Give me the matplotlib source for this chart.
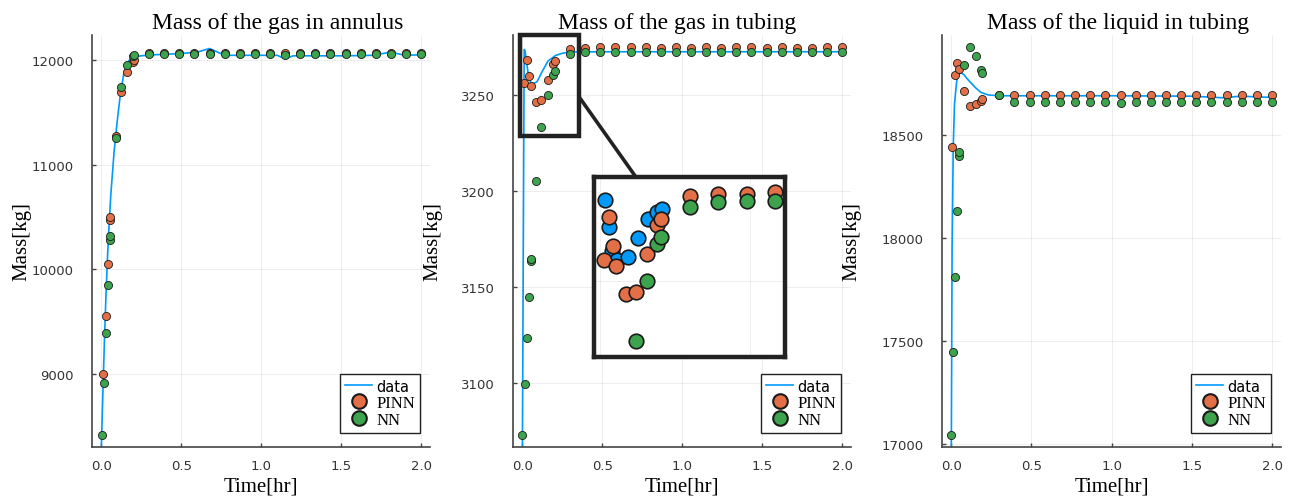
import matplotlib.pyplot as plt
from matplotlib.lines import Line2D
from matplotlib.patches import Rectangle, ConnectionPatch

# sample times after the start-up transient (shared by all three panels)
t_late = [0.3, 0.394, 0.489, 0.583, 0.678, 0.772, 0.867, 0.961, 1.056, 1.15,
          1.244, 1.339, 1.433, 1.528, 1.622, 1.717, 1.811, 1.906, 2.0]

# --- mass of the gas in annulus ---
line1_t = [0, 0.01, 0.02, 0.03, 0.04, 0.05, 0.06, 0.08, 0.10, 0.12, 0.14, 0.16, 0.18, 0.2,
           0.25, 0.3, 0.4, 0.5, 0.6, 0.677, 0.75, 0.8, 0.9, 1.0, 1.1, 1.15, 1.2, 1.3, 1.4,
           1.5, 1.6, 1.7, 1.81, 1.9, 2.0]
line1_v = [8280, 8820, 9330, 9780, 10150, 10460, 10720, 11120, 11420, 11680, 11860, 11960,
           12010, 12030, 12040, 12048, 12055, 12062, 12075, 12110, 12060, 12045, 12045, 12045,
           12045, 12012, 12040, 12040, 12040, 12040, 12042, 12045, 12075, 12045, 12050]
pinn1_t = [0.0125, 0.027, 0.042, 0.054, 0.056, 0.09, 0.123, 0.158, 0.196, 0.204] + t_late
pinn1_v = [9000, 9555, 10055, 10475, 10497, 11277, 11691, 11888, 11984, 12000,
           12064, 12066, 12066, 12066, 12066, 12066, 12066, 12066, 12066, 12066,
           12066, 12066, 12066, 12066, 12066, 12066, 12066, 12066, 12066]
nn1_t = [0.002, 0.017, 0.029, 0.042, 0.054, 0.056, 0.09, 0.123, 0.158, 0.196, 0.204] + t_late
nn1_v = [8418, 8912, 9392, 9851, 10284, 10316, 11252, 11742, 11952, 12035, 12048,
         12062, 12062, 12062, 12062, 12062, 12062, 12062, 12062, 12062, 12048,
         12062, 12062, 12062, 12062, 12062, 12062, 12062, 12062, 12062]

# --- mass of the gas in tubing ---
line2_t = [0, 0.012, 0.017, 0.03, 0.041, 0.055, 0.07, 0.092, 0.125, 0.161, 0.191, 0.206,
           0.25, 0.3, 0.6, 1.0, 1.5, 2.0]
line2_v = [3050, 3273.5, 3272.9, 3265.1, 3258.5, 3256.2, 3255.8, 3256.7, 3262.1, 3267.5,
           3269.3, 3270.3, 3271.5, 3272.2, 3272.3, 3272.3, 3272.3, 3272.3]
pinn2_t = [0.0125, 0.03, 0.042, 0.054, 0.0875, 0.12, 0.158, 0.19, 0.204] + t_late
pinn2_v = [3255.9, 3267.9, 3259.9, 3254.3, 3246.4, 3247.0, 3257.7, 3265.8, 3267.5,
           3273.8, 3274.5, 3274.6, 3275.0, 3274.7, 3275.0, 3274.4, 3274.8, 3274.5, 3274.7,
           3274.3, 3274.8, 3274.6, 3274.4, 3274.8, 3274.5, 3274.3, 3274.7, 3274.8]
nn2_t = [0.0, 0.015, 0.027, 0.04, 0.052, 0.054, 0.0875, 0.12, 0.158, 0.19, 0.204] + t_late
nn2_v = [3073.4, 3099.8, 3123.6, 3144.8, 3163.7, 3164.6, 3205.4, 3233.0, 3249.9, 3260.3, 3262.3,
         3270.9, 3272.3, 3272.4, 3272.4, 3272.4, 3272.3, 3272.4, 3272.4, 3272.3, 3272.4,
         3272.4, 3272.3, 3272.4, 3272.4, 3272.4, 3272.3, 3272.4, 3272.4, 3272.3]
# data samples shown in the zoomed inset
data2_t = [0.017, 0.03, 0.041, 0.055, 0.092, 0.125, 0.161, 0.191, 0.206]
data2_v = [3272.9, 3265.1, 3258.5, 3256.0, 3256.7, 3262.1, 3267.5, 3269.3, 3270.3]

# --- mass of the liquid in tubing ---
line3_t = [0, 0.005, 0.012, 0.02, 0.033, 0.045, 0.06, 0.075, 0.11, 0.15, 0.183, 0.23, 0.3,
           0.6, 1.0, 1.5, 1.7, 1.8, 2.0]
line3_v = [16950, 17950, 18440, 18650, 18757, 18796, 18800, 18795, 18763, 18730, 18707,
           18694, 18690, 18690, 18690, 18688, 18680, 18688, 18682]
pinn3_t = [0.006, 0.021, 0.033, 0.048, 0.079, 0.115, 0.152, 0.183, 0.194] + t_late
pinn3_v = [18440, 18790, 18849, 18820, 18715, 18638, 18648, 18667, 18675,
           18694, 18696, 18696, 18696, 18696, 18696, 18696, 18696, 18696, 18696,
           18696, 18696, 18696, 18696, 18696, 18696, 18696, 18696, 18696]
nn3_t = [0.0, 0.008, 0.023, 0.033, 0.048, 0.05, 0.08, 0.115, 0.152, 0.183, 0.194] + t_late
nn3_v = [17044, 17445, 17809, 18131, 18397, 18416, 18840, 18928, 18883, 18816, 18800,
         18694, 18662, 18662, 18662, 18662, 18662, 18662, 18662, 18655, 18662,
         18662, 18662, 18662, 18662, 18658, 18662, 18662, 18662, 18662]

titles = ["Mass of the gas in annulus", "Mass of the gas in tubing", "Mass of the liquid in tubing"]
yticks = [[9000, 10000, 11000, 12000], [3100, 3150, 3200, 3250], [17000, 17500, 18000, 18500]]
ylims = [(8303, 12239), (3067, 3281), (16985, 18985)]

BLUE, ORANGE, GREEN = "#009AFA", "#E26F46", "#3DA44D"
SERIF = "Liberation Serif"
SANS = "DejaVu Sans"

fig = plt.figure(figsize=(12.91, 5.02), dpi=100)
W, H = 1291, 502
boxes = [(92, 338), (513, 338), (942, 339)]
title_x = [0.55, 0.485, 0.52]
ylabel_x = [-0.18, -0.21, -0.239]

series = [(line1_t, line1_v, pinn1_t, pinn1_v, nn1_t, nn1_v),
          (line2_t, line2_v, pinn2_t, pinn2_v, nn2_t, nn2_v),
          (line3_t, line3_v, pinn3_t, pinn3_v, nn3_t, nn3_v)]

axes = []
for i, (left, width) in enumerate(boxes):
    ax = fig.add_axes([left / W, (H - 448) / H, width / W, 412 / H])
    lt, lv, pt, pv, nt, nv = series[i]
    ax.plot(lt, lv, color=BLUE, lw=1.2, zorder=2)
    ax.scatter(pt, pv, s=34, color=ORANGE, edgecolors="#1a1a1a", linewidths=0.6, zorder=3)
    ax.scatter(nt, nv, s=34, color=GREEN, edgecolors="#1a1a1a", linewidths=0.6, zorder=4)
    ax.set_xlim(-0.058, 2.056)
    ax.set_ylim(*ylims[i])
    ax.set_xticks([0, 0.5, 1.0, 1.5, 2.0])
    ax.set_yticks(yticks[i])
    ax.grid(True, color="#000000", alpha=0.08, lw=0.6)
    for s in ["top", "right"]:
        ax.spines[s].set_visible(False)
    for s in ["left", "bottom"]:
        ax.spines[s].set_color("#444444")
        ax.spines[s].set_linewidth(1.2)
    ax.tick_params(direction="in", length=3, width=1, color="#444444",
                   labelsize=9.5, labelcolor="#333333")
    ax.tick_params(axis="x", pad=9)
    ax.tick_params(axis="y", pad=13)
    for lab in ax.get_xticklabels() + ax.get_yticklabels():
        lab.set_family(SANS)
    ax.set_title(titles[i], family=SERIF, fontsize=17, x=title_x[i], pad=5)
    ax.set_xlabel("Time[hr]", family=SERIF, fontsize=15, labelpad=3)
    ax.set_ylabel("Mass[kg]", family=SERIF, fontsize=15)
    ax.yaxis.set_label_coords(ylabel_x[i], 0.5)

    handles = [Line2D([], [], color=BLUE, lw=1.2, label="data"),
               Line2D([], [], marker="o", ls="", markersize=10.5, markerfacecolor=ORANGE,
                      markeredgecolor="#1a1a1a", markeredgewidth=1.5, label="PINN"),
               Line2D([], [], marker="o", ls="", markersize=10.5, markerfacecolor=GREEN,
                      markeredgecolor="#1a1a1a", markeredgewidth=1.5, label="NN")]
    leg = ax.legend(handles=handles, loc="lower right", bbox_to_anchor=(0.97, 0.034),
                    borderaxespad=0, frameon=True, fancybox=False, framealpha=1,
                    edgecolor="#222222", handlelength=1.6, handletextpad=0.25,
                    labelspacing=0.05, borderpad=0.3, fontsize=12)
    leg.get_frame().set_linewidth(1.0)
    texts = leg.get_texts()
    texts[0].set_family(SANS)
    texts[0].set_fontsize(10.5)
    texts[1].set_family(SERIF)
    texts[2].set_family(SERIF)
    axes.append(ax)

# zoomed inset for the gas in tubing
ax2 = axes[1]
ax2.add_patch(Rectangle((-0.016, 3228.3), 0.37, 52.7, fill=False, lw=3.2,
                        ec="#222222", clip_on=False, zorder=6))
axins = fig.add_axes([593.5 / W, (H - 358) / H, 191 / W, 180.5 / H])
axins.scatter(data2_t, data2_v, s=110, color=BLUE, edgecolors="#1a1a1a", linewidths=1.2, zorder=3)
axins.scatter(pinn2_t, pinn2_v, s=110, color=ORANGE, edgecolors="#1a1a1a", linewidths=1.2, zorder=4)
axins.scatter(nn2_t, nn2_v, s=110, color=GREEN, edgecolors="#1a1a1a", linewidths=1.2, zorder=5)
axins.set_xlim(-0.0217, 0.615)
axins.set_ylim(3228.6, 3279.4)
axins.set_xticks([0, 0.5])
axins.set_yticks([3250])
axins.grid(True, color="#000000", alpha=0.08, lw=0.6)
axins.tick_params(length=0, labelbottom=False, labelleft=False)
for s in axins.spines.values():
    s.set_linewidth(3.2)
    s.set_color("#222222")

con = ConnectionPatch(xyA=(0.354, 3249), coordsA=ax2.transData,
                      xyB=(0.22, 1.0), coordsB=axins.transAxes,
                      color="#222222", lw=2.6)
fig.add_artist(con)

fig.savefig("out.png", dpi=100)
